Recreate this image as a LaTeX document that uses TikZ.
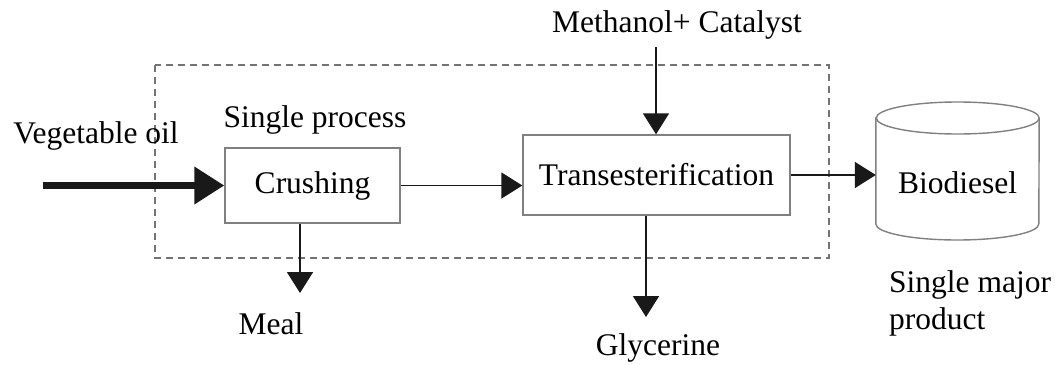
\documentclass[tikz,border=0pt]{standalone}
\usepackage{fontspec}
\setmainfont{Liberation Serif}
\usetikzlibrary{arrows.meta}
\begin{document}
\begin{tikzpicture}[x=1pt,y=-1pt,
  every node/.style={font=\fontsize{31.5}{37}\selectfont, inner sep=0pt},
  procbox/.style={draw=black!50, line width=1.4pt, fill=white},
  flow/.style={draw=black!90, line width=1.8pt, -{Triangle[length=21pt,width=26pt]}},
  mainflow/.style={draw=black!90, line width=7pt, -{Triangle[length=30pt,width=36pt]}},
  boundary/.style={draw=black!55, line width=1.3pt, dash pattern=on 7pt off 5pt}]
\useasboundingbox (0,0) rectangle (1059,364);

% system boundary
\draw[boundary] (155,65) rectangle (829,258);

% process units
\node[procbox, minimum width=175pt, minimum height=75pt] (crush) at (312.5,185.5) {Crushing};
\node[procbox, minimum width=267pt, minimum height=80pt] (tr) at (656.5,175) {Transesterification};

% product storage tank
\node[minimum width=163pt, minimum height=138pt] (bio) at (957.5,171) {};
\draw[draw=black!50, line width=1.4pt, fill=white]
  (bio.west |- 0,118) -- (bio.west |- 0,224)
  arc[start angle=180, end angle=360, x radius=81.5pt, y radius=16pt]
  -- (bio.east |- 0,118)
  arc[start angle=0, end angle=180, x radius=81.5pt, y radius=16pt] -- cycle;
\draw[draw=black!50, line width=1.4pt]
  (bio.east |- 0,118) arc[start angle=0, end angle=-180, x radius=81.5pt, y radius=16pt];
\node (biotext) at (957.5,183) {Biodiesel};

% labels
\node (veg) at (96,136) {Vegetable oil};
\node (single) at (315,120) {Single process};
\node (meth) at (677,25) {Methanol+ Catalyst};
\node (meal) at (271,324) {Meal};
\node (gly) at (658,348) {Glycerine};
\node[align=left, anchor=west] (major) at (889,303) {Single major\\product};

% free ends of the streams
\coordinate (vin) at (43,185.5);
\coordinate (mtop) at (656,47);
\coordinate (mealend) at (300,293);
\coordinate (gend) at (646,317);

% streams
\draw[mainflow] (vin) -- (crush.west);
\draw[flow] (crush.east) -- (crush.east -| tr.west);
\draw[flow] (mtop) -- (mtop |- tr.north);
\draw[flow] (tr.east) -- (tr.east -| bio.west);
\draw[flow] (crush.south -| mealend) -- (mealend);
\draw[flow] (tr.south -| gend) -- (gend);
\end{tikzpicture}
\end{document}
